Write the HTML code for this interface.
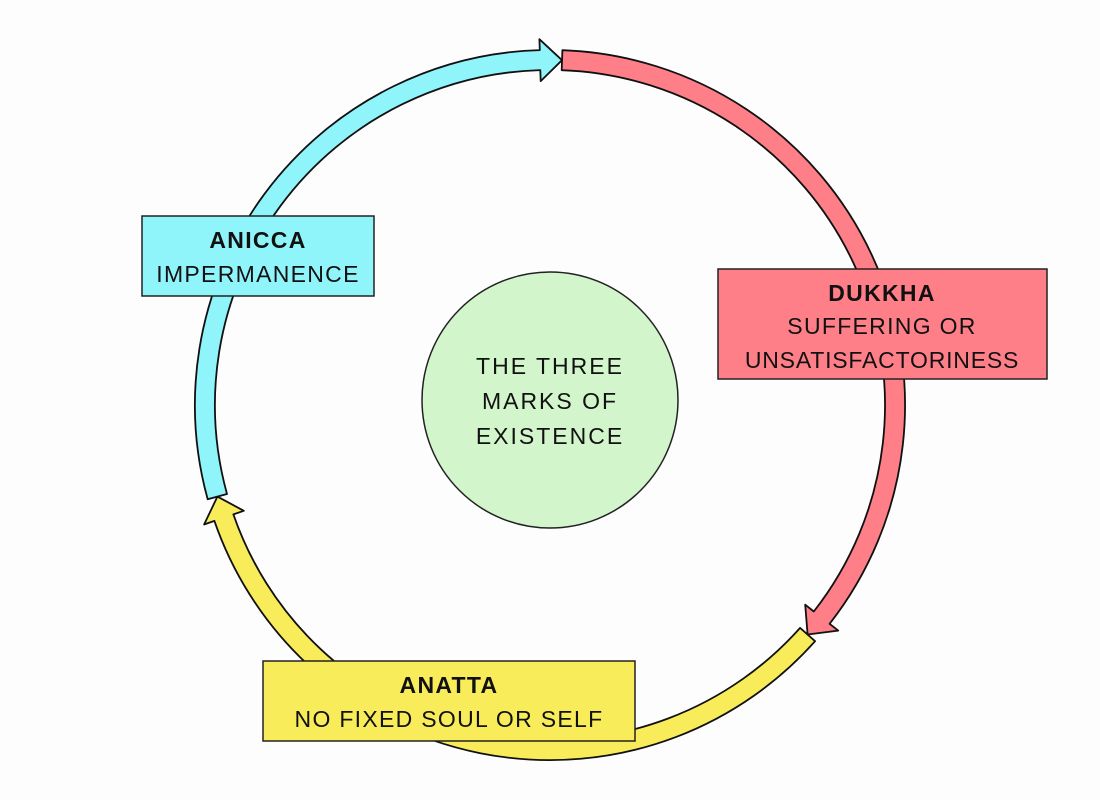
<!DOCTYPE html>
<html><head><meta charset="utf-8"><style>
body{margin:0;background:#fdfdfd;}
svg{display:block}
text{font-family:"Liberation Sans",sans-serif;font-size:23px;fill:#111;text-anchor:middle;letter-spacing:1.3px}
.b{font-weight:bold}
</style></head><body>
<svg id="s" width="1100" height="800" viewBox="0 0 1100 800">
<g id="arcs"></g>
<circle cx="550" cy="400" r="128" fill="#d3f5cb" stroke="#222" stroke-width="1.5"/>
<text x="550" y="374" style="letter-spacing:2px">THE THREE</text>
<text x="550" y="409" style="letter-spacing:2px">MARKS OF</text>
<text x="550" y="444" style="letter-spacing:2px">EXISTENCE</text>
<rect x="142" y="216" width="232" height="80" fill="#90f4fb" stroke="#222" stroke-width="1.5"/>
<text x="258" y="248" class="b">ANICCA</text>
<text x="258" y="282">IMPERMANENCE</text>
<rect x="718" y="269" width="329" height="110" fill="#ff7f89" stroke="#222" stroke-width="1.5"/>
<text x="882" y="301" class="b">DUKKHA</text>
<text x="882" y="334">SUFFERING OR</text>
<text x="882" y="368" style="letter-spacing:0.8px">UNSATISFACTORINESS</text>
<rect x="263" y="661" width="372" height="80" fill="#f9ec5a" stroke="#222" stroke-width="1.5"/>
<text x="449" y="693" class="b">ANATTA</text>
<text x="449" y="727">NO FIXED SOUL OR SELF</text>
</svg>
<script>
var cx=550,cy=405,R=345,w=10,hw=21,hl=22;
function P(r,t){var a=t*Math.PI/180;return [(cx+r*Math.sin(a)).toFixed(1),(cy-r*Math.cos(a)).toFixed(1)];}
function arc(s,e,col){
 var hd=hl/R*180/Math.PI, b=e-hd, d="";
 var o1=P(R+w,s),o2=P(R+w,b),h1=P(R+hw,b),tp=P(R,e),h2=P(R-hw,b),i2=P(R-w,b),i1=P(R-w,s);
 var lg=(b-s)>180?1:0;
 d="M"+o1+" A"+(R+w)+","+(R+w)+" 0 "+lg+" 1 "+o2+" L"+h1+" L"+tp+" L"+h2+" L"+i2+" A"+(R-w)+","+(R-w)+" 0 "+lg+" 0 "+i1+" Z";
 var p=document.createElementNS("http://www.w3.org/2000/svg","path");
 p.setAttribute("d",d);p.setAttribute("fill",col);p.setAttribute("stroke","#111");p.setAttribute("stroke-width","1.8");p.setAttribute("stroke-linejoin","round");
 document.getElementById("arcs").appendChild(p);
}
arc(131.7,254.6,"#f9ec5a");
arc(2,131.7,"#ff7f89");
arc(254.6,362,"#90f4fb");
</script>
</body></html>
